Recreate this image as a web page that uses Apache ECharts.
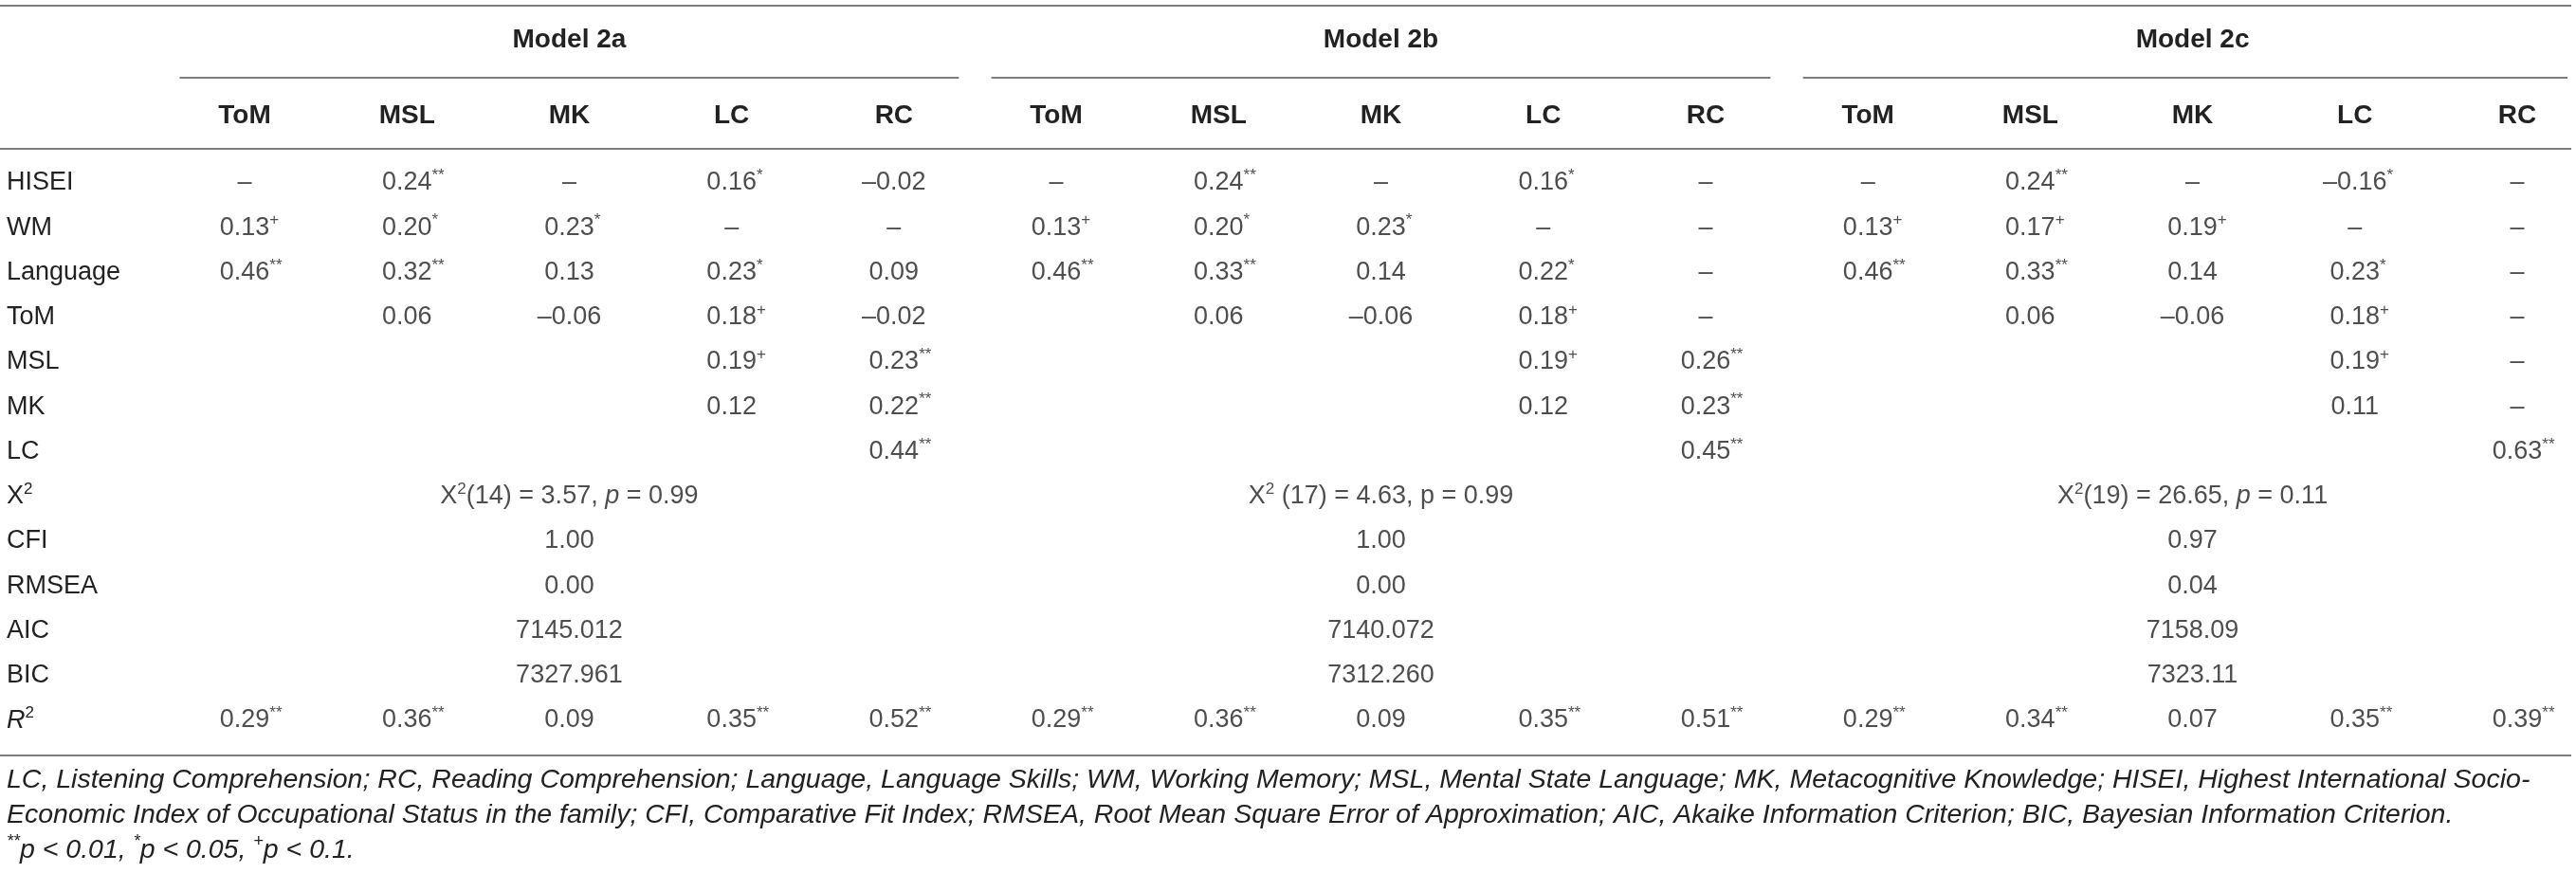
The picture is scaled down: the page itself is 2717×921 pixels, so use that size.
<!DOCTYPE html>
<html>
<head>
<meta charset="utf-8">
<script src="https://cdn.jsdelivr.net/npm/echarts@6/dist/echarts.min.js"></script>
<style>
  html, body { margin: 0; padding: 0; background: #fff; }
  #chart { width: 2717px; height: 921px; }
</style>
</head>
<body>
<div id="chart"></div>
<script>
// 行标签：预测变量 + 拟合指标
const rowNames = ['HISEI', 'WM', 'Language', 'ToM', 'MSL', 'MK', 'LC', 'X2', 'CFI', 'RMSEA', 'AIC', 'BIC', 'R2'];
// 每个模型下的结果变量
const outcomes = ['ToM', 'MSL', 'MK', 'LC', 'RC'];
const models = ['Model 2a', 'Model 2b', 'Model 2c'];

// 路径系数（行顺序同 rowNames 前 7 行，'' 为空白格）
const coef2a = [
  ['–', '0.24**', '–', '0.16*', '–0.02'],
  ['0.13+', '0.20*', '0.23*', '–', '–'],
  ['0.46**', '0.32**', '0.13', '0.23*', '0.09'],
  ['', '0.06', '–0.06', '0.18+', '–0.02'],
  ['', '', '', '0.19+', '0.23**'],
  ['', '', '', '0.12', '0.22**'],
  ['', '', '', '', '0.44**']
];
const coef2b = [
  ['–', '0.24**', '–', '0.16*', '–'],
  ['0.13+', '0.20*', '0.23*', '–', '–'],
  ['0.46**', '0.33**', '0.14', '0.22*', '–'],
  ['', '0.06', '–0.06', '0.18+', '–'],
  ['', '', '', '0.19+', '0.26**'],
  ['', '', '', '0.12', '0.23**'],
  ['', '', '', '', '0.45**']
];
const coef2c = [
  ['–', '0.24**', '–', '–0.16*', '–'],
  ['0.13+', '0.17+', '0.19+', '–', '–'],
  ['0.46**', '0.33**', '0.14', '0.23*', '–'],
  ['', '0.06', '–0.06', '0.18+', '–'],
  ['', '', '', '0.19+', '–'],
  ['', '', '', '0.11', '–'],
  ['', '', '', '', '0.63**']
];
// R²
const r2a = ['0.29**', '0.36**', '0.09', '0.35**', '0.52**'];
const r2b = ['0.29**', '0.36**', '0.09', '0.35**', '0.51**'];
const r2c = ['0.29**', '0.34**', '0.07', '0.35**', '0.39**'];

// 拟合指标
const chiDf = ['14', '17', '19'];
const chiVal = ['3.57', '4.63', '26.65'];
const chiP = ['0.99', '0.99', '0.11'];
const chiTight = [true, false, true];
const cfi = ['1.00', '1.00', '0.97'];
const rmsea = ['0.00', '0.00', '0.04'];
const aic = ['7145.012', '7140.072', '7158.09'];
const bic = ['7327.961', '7312.260', '7323.11'];

// 表注
const footLines = [
  'LC, Listening Comprehension; RC, Reading Comprehension; Language, Language Skills; WM, Working Memory; MSL, Mental State Language; MK, Metacognitive Knowledge; HISEI, Highest International Socio-',
  'Economic Index of Occupational Status in the family; CFI, Comparative Fit Index; RMSEA, Root Mean Square Error of Approximation; AIC, Akaike Information Criterion; BIC, Bayesian Information Criterion.'
];
const sigNote = [['**', 'p < 0.01, '], ['*', 'p < 0.05, '], ['+', 'p < 0.1.']];

const W = 2717;
const FONT = '"Liberation Sans", Arial, sans-serif';
const INK = '#222222';
const RULE = '#7d7d7d';
const GRID = { left: 258, right: 62, top: 193, bottom: 161 };

const xCats = [];
models.forEach(m => outcomes.forEach(o => xCats.push(m + '|' + o)));

// 数值 + 显著性上标；左侧加同宽透明占位，让数值本身居中
function cellRich(txt) {
  const m = txt.match(/^([^*+]*)([*+]*)$/);
  const val = m[1], sig = m[2];
  if (!sig) return '{v|' + val + '}';
  return '{pad|' + sig + '}{v|' + val + '}{s|' + sig + '}';
}

const cellData = [];
[coef2a, coef2b, coef2c].forEach((rows, mi) => {
  rows.forEach((row, ri) => {
    row.forEach((txt, ci) => {
      if (txt !== '') cellData.push({ name: cellRich(txt), value: [xCats[mi * 5 + ci], rowNames[ri]] });
    });
  });
});
[r2a, r2b, r2c].forEach((row, mi) => {
  row.forEach((txt, ci) => {
    cellData.push({ name: cellRich(txt), value: [xCats[mi * 5 + ci], 'R2'] });
  });
});

const fitData = [];
models.forEach((m, mi) => {
  const x = xCats[mi * 5 + 2];
  const chi = chiTight[mi]
    ? '{v|X}{s2|2}{v|(' + chiDf[mi] + ') = ' + chiVal[mi] + ', }{it|p}{v| = ' + chiP[mi] + '}'
    : '{v|X}{s2|2}{v| (' + chiDf[mi] + ') = ' + chiVal[mi] + ', p = ' + chiP[mi] + '}';
  fitData.push({ name: chi, value: [x, 'X2'] });
  fitData.push({ name: '{v|' + cfi[mi] + '}', value: [x, 'CFI'] });
  fitData.push({ name: '{v|' + rmsea[mi] + '}', value: [x, 'RMSEA'] });
  fitData.push({ name: '{v|' + aic[mi] + '}', value: [x, 'AIC'] });
  fitData.push({ name: '{v|' + bic[mi] + '}', value: [x, 'BIC'] });
});

const cellRichStyle = {
  v: { fontSize: 27, lineHeight: 32, color: INK, fontFamily: FONT },
  it: { fontSize: 27, lineHeight: 32, color: INK, fontFamily: FONT, fontStyle: 'italic' },
  s: { fontSize: 17, lineHeight: 17, color: INK, fontFamily: FONT, verticalAlign: 'top' },
  s2: { fontSize: 17, lineHeight: 17, color: INK, fontFamily: FONT, verticalAlign: 'top' },
  pad: { fontSize: 17, lineHeight: 17, color: 'rgba(0,0,0,0)', fontFamily: FONT, verticalAlign: 'top' }
};

const footText = footLines.join('\n') + '\n' +
  sigNote.map(n => '{sup|' + n[0] + '}{i|' + n[1] + '}').join('');

const hidden = { axisLine: { show: false }, axisTick: { show: false }, splitLine: { show: false } };

const option = {
  animation: false,
  backgroundColor: '#fff',
  title: {
    left: 7,
    top: 805,
    padding: 0,
    text: footText,
    textStyle: {
      fontFamily: FONT, fontSize: 28.5, fontStyle: 'italic', fontWeight: 'normal',
      color: INK, lineHeight: 37,
      rich: {
        i: { fontFamily: FONT, fontSize: 28.5, fontStyle: 'italic', color: INK, lineHeight: 37 },
        sup: { fontFamily: FONT, fontSize: 18, fontStyle: 'italic', color: INK, lineHeight: 18, verticalAlign: 'top' }
      }
    }
  },
  grid: [
    Object.assign({}, GRID),
    Object.assign({}, GRID)
  ],
  xAxis: [
    Object.assign({
      type: 'category', gridIndex: 0, position: 'top', data: xCats, boundaryGap: false,
      axisLabel: {
        interval: 0, margin: 71, verticalAlign: 'middle', color: INK,
        fontFamily: FONT, fontSize: 28, fontWeight: 'bold',
        formatter: v => v.split('|')[1]
      }
    }, hidden),
    Object.assign({
      type: 'category', gridIndex: 1, position: 'top', data: xCats, boundaryGap: false,
      axisLabel: {
        interval: 0, margin: 151, verticalAlign: 'middle', color: INK,
        fontFamily: FONT, fontSize: 28, fontWeight: 'bold',
        formatter: (v, i) => (i % 5 === 2 ? v.split('|')[0] : '')
      }
    }, hidden)
  ],
  yAxis: [
    Object.assign({
      type: 'category', gridIndex: 0, data: rowNames, inverse: true, boundaryGap: false,
      axisLabel: {
        interval: 0, margin: GRID.left - 7, align: 'left', color: INK,
        formatter: v => v === 'X2' ? '{t|X}{sup|2}' : v === 'R2' ? '{it|R}{sup|2}' : '{t|' + v + '}',
        rich: {
          t: { fontFamily: FONT, fontSize: 27, color: INK, lineHeight: 32 },
          it: { fontFamily: FONT, fontSize: 27, color: INK, lineHeight: 32, fontStyle: 'italic' },
          sup: { fontFamily: FONT, fontSize: 17, color: INK, lineHeight: 17, verticalAlign: 'top' }
        }
      }
    }, hidden),
    Object.assign({
      type: 'category', gridIndex: 1, data: rowNames, inverse: true, boundaryGap: false,
      axisLabel: { show: false }
    }, hidden)
  ],
  series: [
    {
      name: 'coef', type: 'scatter', xAxisIndex: 0, yAxisIndex: 0,
      symbolSize: 1, itemStyle: { color: 'rgba(0,0,0,0)' }, silent: true,
      label: { show: true, position: 'inside', formatter: p => p.name, rich: cellRichStyle },
      data: cellData
    },
    {
      name: 'fit', type: 'scatter', xAxisIndex: 0, yAxisIndex: 0,
      symbolSize: 1, itemStyle: { color: 'rgba(0,0,0,0)' }, silent: true,
      label: { show: true, position: 'inside', formatter: p => p.name, rich: cellRichStyle },
      data: fitData
    }
  ]
};

const chart = echarts.init(document.getElementById('chart'), null, { renderer: 'canvas' });
chart.setOption(option);

// 表格横线：列位置从坐标轴换算
const px = i => chart.convertToPixel({ xAxisIndex: 0 }, xCats[i]);
const band = px(1) - px(0);
const ruleStyle = { stroke: RULE, lineWidth: 2 };
const rules = [6, 157, 797].map(y => ({
  type: 'line', shape: { x1: 0, y1: y, x2: W - 5, y2: y }, style: ruleStyle, silent: true
}));
models.forEach((m, mi) => {
  rules.push({
    type: 'line',
    shape: {
      x1: px(mi * 5) - 0.4 * band, y1: 82,
      x2: Math.min(px(mi * 5 + 4) + 0.4 * band, W - 9), y2: 82
    },
    style: ruleStyle, silent: true
  });
});
chart.setOption({ graphic: rules });
</script>
</body>
</html>
